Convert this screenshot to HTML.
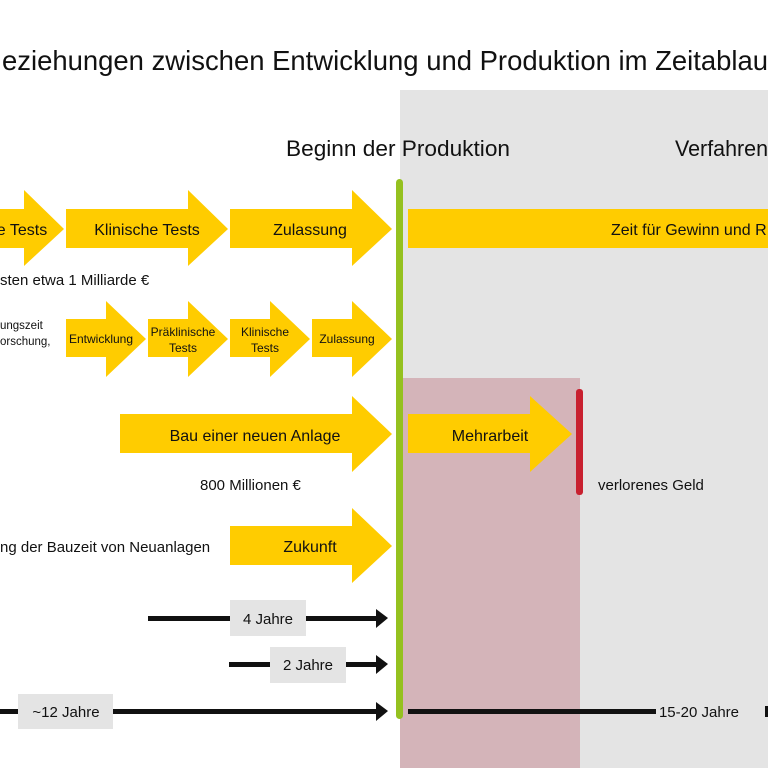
<!DOCTYPE html>
<html><head><meta charset="utf-8"><style>
html,body{margin:0;padding:0;background:#fff;}
svg{display:block;font-family:"Liberation Sans",sans-serif;}
</style></head><body>
<svg width="768" height="768" viewBox="0 0 768 768" xmlns="http://www.w3.org/2000/svg">
<rect x="400" y="90" width="368" height="678" fill="#e4e4e4"/>
<rect x="400" y="378" width="180" height="390" fill="#d4b4b9"/>
<text x="2" y="70" font-size="28" fill="#111" textLength="766" lengthAdjust="spacingAndGlyphs">eziehungen zwischen Entwicklung und Produktion im Zeitablau</text>
<text x="286" y="156" font-size="22" fill="#111" textLength="224" lengthAdjust="spacingAndGlyphs">Beginn der Produktion</text>
<text x="675" y="156" font-size="22" fill="#111" textLength="93" lengthAdjust="spacingAndGlyphs">Verfahren</text>
<g fill="#ffcc00">
<polygon points="-10,209 24,209 24,190 64,229 24,266 24,248 -10,248"/>
<polygon points="66,209 188,209 188,190 228,229 188,266 188,248 66,248"/>
<polygon points="230,209 352,209 352,190 392,229 352,266 352,248 230,248"/>
<rect x="408" y="209" width="360" height="39"/>
<polygon points="66,319 106,319 106,301 146,339 106,377 106,357 66,357"/>
<polygon points="148,319 188,319 188,301 228,339 188,377 188,357 148,357"/>
<polygon points="230,319 270,319 270,301 310,339 270,377 270,357 230,357"/>
<polygon points="312,319 352,319 352,301 392,339 352,377 352,357 312,357"/>
<polygon points="120,414 352,414 352,396 392,434 352,472 352,453 120,453"/>
<polygon points="408,414 530,414 530,396 572,434 530,472 530,453 408,453"/>
<polygon points="230,526 352,526 352,508 392,546 352,583 352,565 230,565"/>
</g>
<rect x="396" y="179" width="7" height="540" rx="3.5" fill="#95c11f"/>
<rect x="576" y="389" width="7" height="106" rx="3" fill="#c8202f"/>
<g fill="#111" font-size="16" text-anchor="middle">
<text x="22" y="235">e Tests</text>
<text x="147" y="235">Klinische Tests</text>
<text x="310" y="235">Zulassung</text>
<text x="255" y="441">Bau einer neuen Anlage</text>
<text x="490" y="441">Mehrarbeit</text>
<text x="310" y="552">Zukunft</text>
</g>
<text x="611" y="235" font-size="16" fill="#111">Zeit für Gewinn und R</text>
<g fill="#111" font-size="15">
<text x="0" y="285">sten etwa 1 Milliarde €</text>
<text x="200" y="490">800 Millionen €</text>
<text x="598" y="490">verlorenes Geld</text>
<text x="0" y="552">ng der Bauzeit von Neuanlagen</text>
</g>
<g fill="#111" font-size="11.5">
<text x="0" y="329">ungszeit</text>
<text x="0" y="345">orschung,</text>
</g>
<g fill="#111" font-size="12" text-anchor="middle">
<text x="101" y="343">Entwicklung</text>
<text x="183" y="336">Präklinische</text>
<text x="183" y="352">Tests</text>
<text x="265" y="336">Klinische</text>
<text x="265" y="352">Tests</text>
<text x="347" y="343">Zulassung</text>
</g>
<g fill="#111">
<rect x="148" y="616" width="230" height="5"/><polygon points="376,609 388,618 376,628"/>
<rect x="229" y="662" width="150" height="5"/><polygon points="376,655 388,664 376,674"/>
<rect x="0" y="709" width="379" height="5"/><polygon points="376,702 388,711 376,721"/>
<rect x="408" y="709" width="248" height="5"/>
<rect x="765" y="706" width="3" height="11"/>
</g>
<g fill="#e4e4e4">
<rect x="230" y="600" width="76" height="36"/>
<rect x="270" y="647" width="76" height="36"/>
<rect x="18" y="694" width="95" height="35"/>
</g>
<g fill="#111" font-size="15" text-anchor="middle">
<text x="268" y="624">4 Jahre</text>
<text x="308" y="670">2 Jahre</text>
<text x="66" y="717">~12 Jahre</text>
<text x="699" y="717">15-20 Jahre</text>
</g>
</svg>
</body></html>
